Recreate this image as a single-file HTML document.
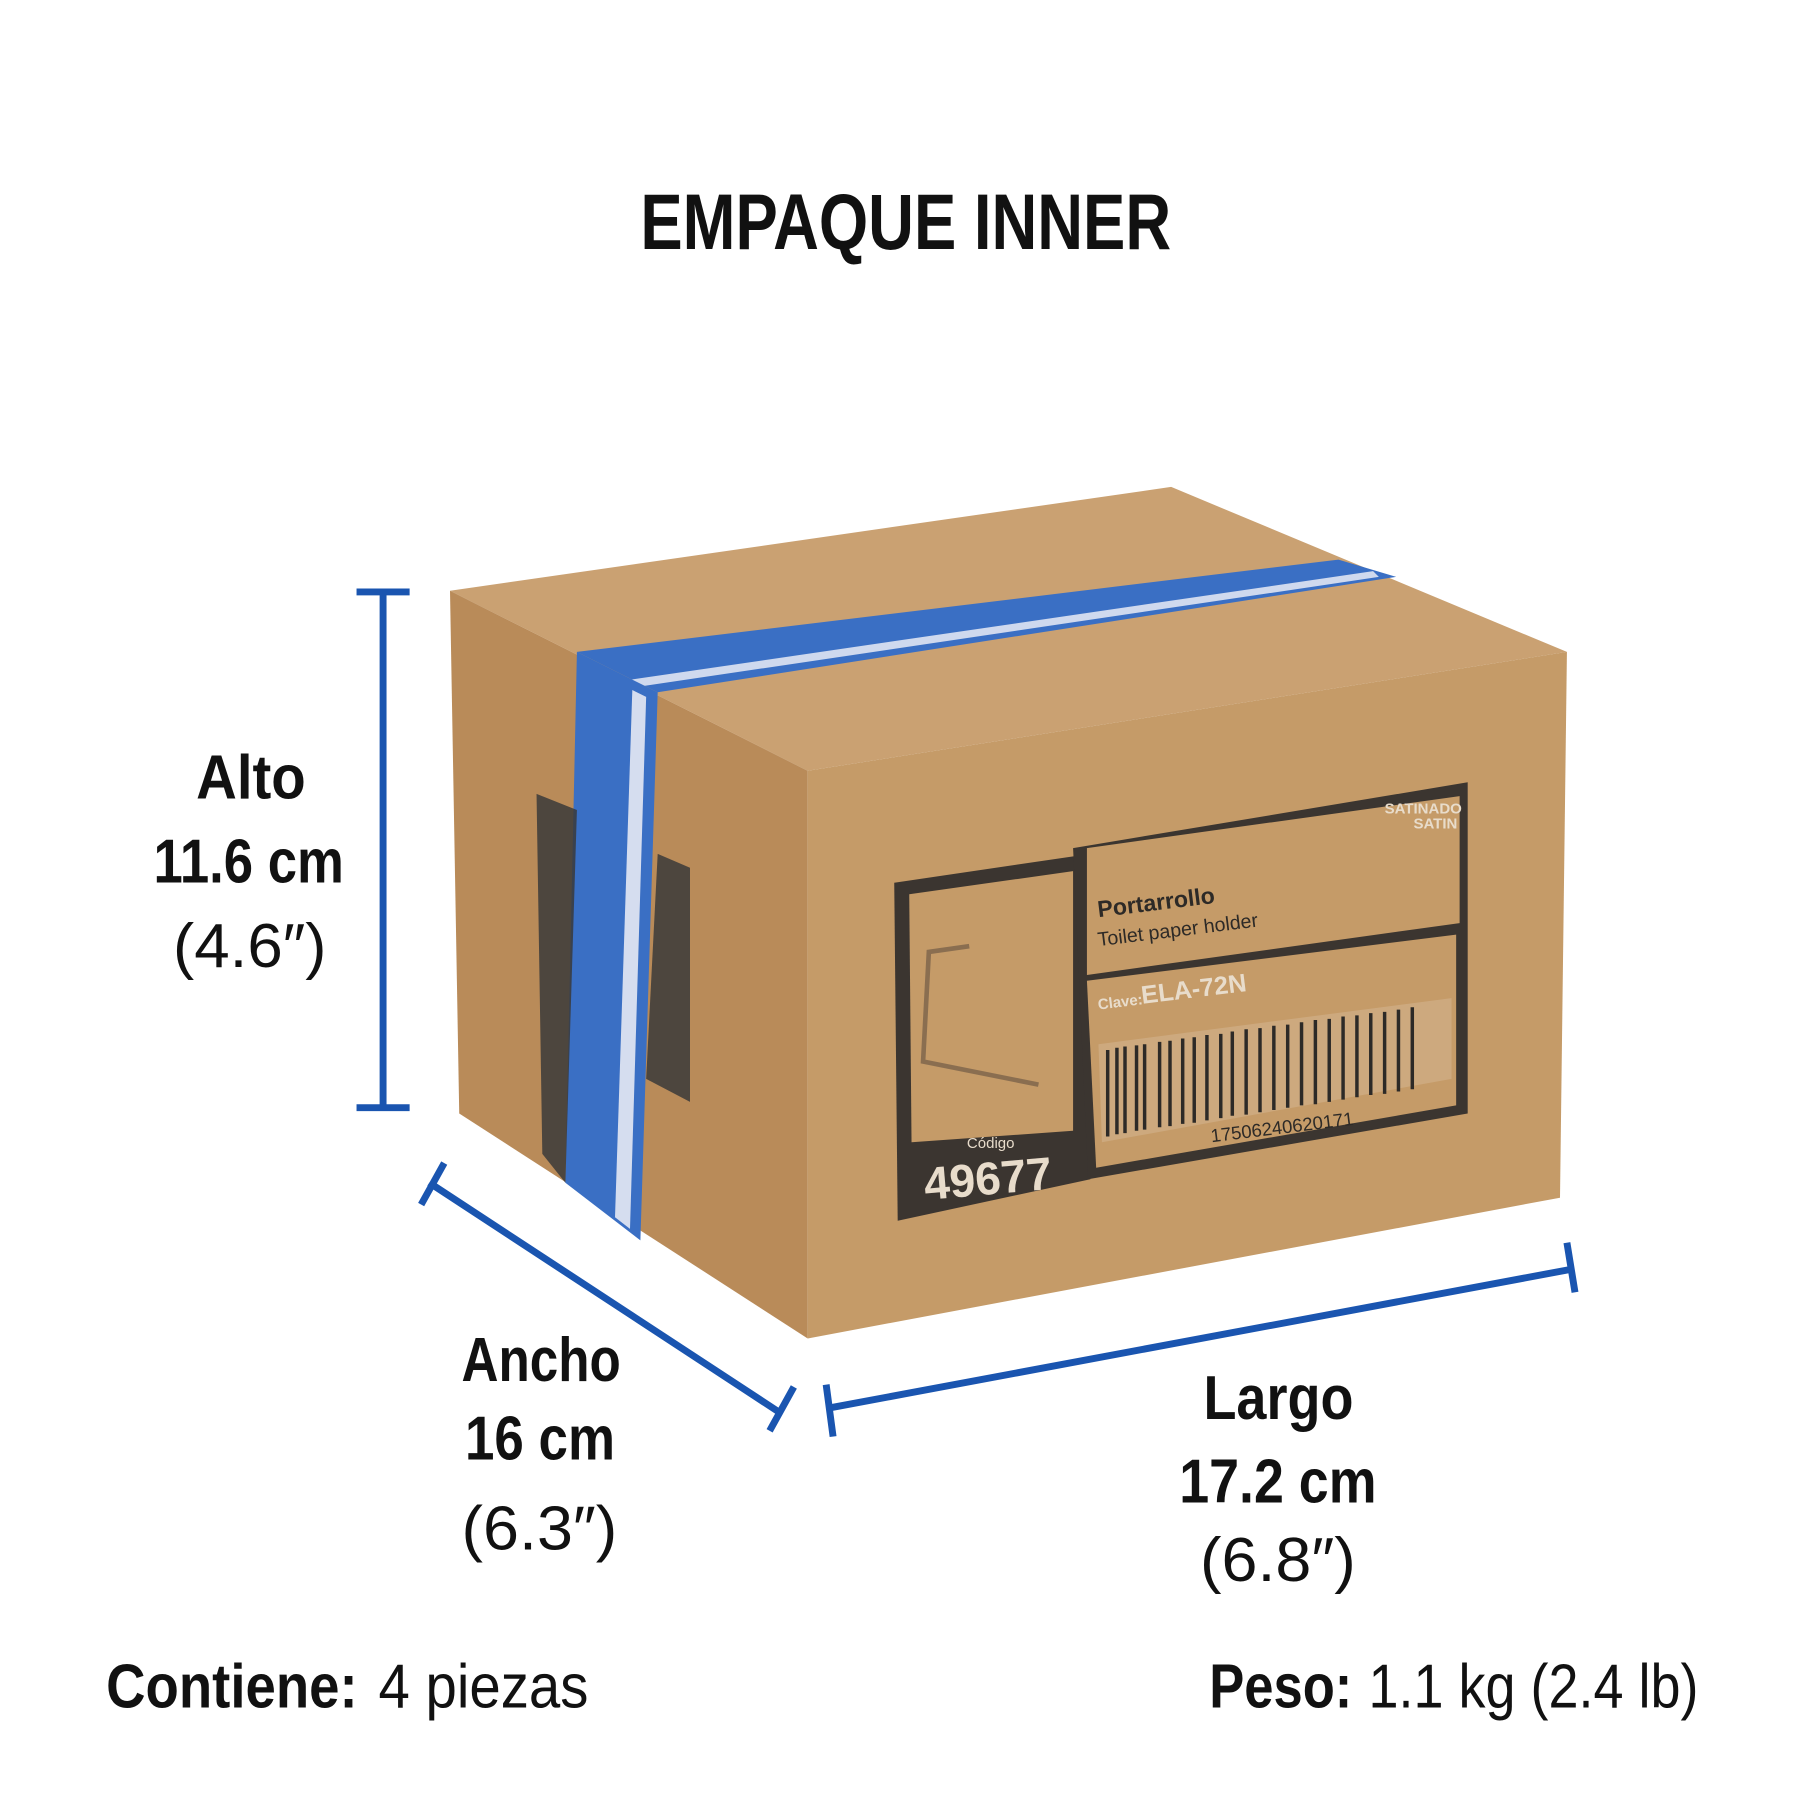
<!DOCTYPE html>
<html><head><meta charset="utf-8"><style>
html,body{margin:0;padding:0;background:#fff}
svg{display:block}
text{font-family:"Liberation Sans Narrow","Liberation Sans",sans-serif;font-weight:bold;fill:#111}
</style></head><body>
<svg width="1800" height="1800" viewBox="0 0 1560 1560" xmlns="http://www.w3.org/2000/svg">
<rect width="1560" height="1560" fill="#fff"/>
<text x="555" y="216" font-size="68" textLength="460" lengthAdjust="spacingAndGlyphs">EMPAQUE INNER</text>
<!-- box -->
<polygon points="390,512 1015,422 1358,565 700,668" fill="#caa172"/>
<polygon points="390,512 700,668 700,1160 398,965" fill="#b98b59"/>
<polygon points="700,668 1358,565 1352,1038 700,1160" fill="#c59b68"/>
<!-- tape top -->
<polygon points="500,565 1160,485 1210,500 570,600" fill="#3a6fc4"/>
<polygon points="540,590 1190,495 1195,500 548,596" fill="#cfd9ee"/>
<!-- tape left -->
<polygon points="500,565 570,600 555,1075 490,1025" fill="#3a6fc4"/>
<polygon points="548,598 560,604 546,1065 533,1055" fill="#d5ddef"/>
<!-- side label -->
<polygon points="465,688 500,702 490,1025 470,1000" fill="#3a3a3a" opacity="0.85"/>
<polygon points="570,740 598,752 598,955 560,935" fill="#3a3a3a" opacity="0.85"/>
<!-- front label -->
<polygon points="775,765 945,740 945,1022 778,1058" fill="#3b3530"/>
<polygon points="788,775 930,755 930,980 790,990" fill="#c59b68"/>
<polygon points="930,735 1272,678 1272,965 943,1022" fill="#3b3530"/>
<polygon points="942,735 1265,690 1265,800 942,845" fill="#c59b68"/>
<polygon points="942,850 1262,810 1262,958 950,1012" fill="#c59b68"/>
<polygon points="952,905 1258,865 1258,935 955,990" fill="#fff" opacity="0.15"/>
<g stroke="#2d2a27" stroke-width="3">
<path d="M960 910 V985 M968 908 V983 M975 907 V982 M985 906 V980 M992 905 V979 M1005 903 V977 M1014 902 V976 M1025 900 V974 M1035 899 V973 M1046 897 V971 M1058 896 V969 M1068 894 V967 M1080 892 V966 M1092 891 V964 M1104 889 V962 M1116 888 V960 M1128 886 V958 M1140 884 V957 M1152 883 V955 M1164 881 V953 M1176 880 V951 M1188 878 V949 M1200 877 V948 M1212 875 V946 M1224 873 V944"/>
</g>
<text x="1200" y="705" font-size="13" style="fill:#e8dccb">SATINADO</text>
<text x="1225" y="718" font-size="13" style="fill:#e8dccb">SATIN</text>
<text x="952" y="795" font-size="20" transform="rotate(-7 952 795)" style="fill:#2d2a27">Portarrollo</text>
<text x="952" y="820" font-size="17" transform="rotate(-7 952 820)" style="fill:#2d2a27;font-weight:normal">Toilet paper holder</text>
<text x="952" y="875" font-size="13" transform="rotate(-7 952 875)" style="fill:#e8dccb">Clave:</text>
<text x="990" y="870" font-size="22" transform="rotate(-7 990 870)" style="fill:#e8dccb">ELA-72N</text>
<text x="1050" y="990" font-size="16" transform="rotate(-7 1050 990)" style="fill:#2d2a27;font-weight:normal">17506240620171</text>
<text x="838" y="995" font-size="13" style="fill:#e8dccb;font-weight:normal">Código</text>
<text x="802" y="1040" font-size="40" transform="rotate(-5 802 1040)" style="fill:#e8dccb">49677</text>
<path d="M840 820 L805 825 L800 920 L900 940" fill="none" stroke="#8a6e50" stroke-width="4"/>
<!-- dimension lines -->
<g stroke="#1a55b0" stroke-width="6" fill="none">
<path d="M332 513 V960 M309 513 H355 M309 960 H355"/>
<path d="M372 1025 L677 1225 M365 1044 L385 1008 M667 1240 L688 1202"/>
<path d="M720 1220 L1362 1100 M716 1200 L722 1245 M1358 1077 L1365 1120"/>
</g>
<g font-size="54">
<text x="170" y="692" textLength="95" lengthAdjust="spacingAndGlyphs">Alto</text>
<text x="133" y="765" textLength="165" lengthAdjust="spacingAndGlyphs">11.6 cm</text>
<text x="150" y="838" textLength="133" lengthAdjust="spacingAndGlyphs" style="font-weight:normal">(4.6″)</text>
<text x="400" y="1197" textLength="138" lengthAdjust="spacingAndGlyphs">Ancho</text>
<text x="403" y="1265" textLength="130" lengthAdjust="spacingAndGlyphs">16 cm</text>
<text x="400" y="1343" textLength="135" lengthAdjust="spacingAndGlyphs" style="font-weight:normal">(6.3″)</text>
<text x="1043" y="1230" textLength="130" lengthAdjust="spacingAndGlyphs">Largo</text>
<text x="1022" y="1302" textLength="171" lengthAdjust="spacingAndGlyphs">17.2 cm</text>
<text x="1040" y="1370" textLength="135" lengthAdjust="spacingAndGlyphs" style="font-weight:normal">(6.8″)</text>
<text x="92" y="1480" textLength="218" lengthAdjust="spacingAndGlyphs">Contiene:</text>
<text x="328" y="1480" textLength="182" lengthAdjust="spacingAndGlyphs" style="font-weight:normal">4 piezas</text>
<text x="1048" y="1480" textLength="124" lengthAdjust="spacingAndGlyphs">Peso:</text>
<text x="1186" y="1480" textLength="286" lengthAdjust="spacingAndGlyphs" style="font-weight:normal">1.1 kg (2.4 lb)</text>
</g>
</svg>
</body></html>
